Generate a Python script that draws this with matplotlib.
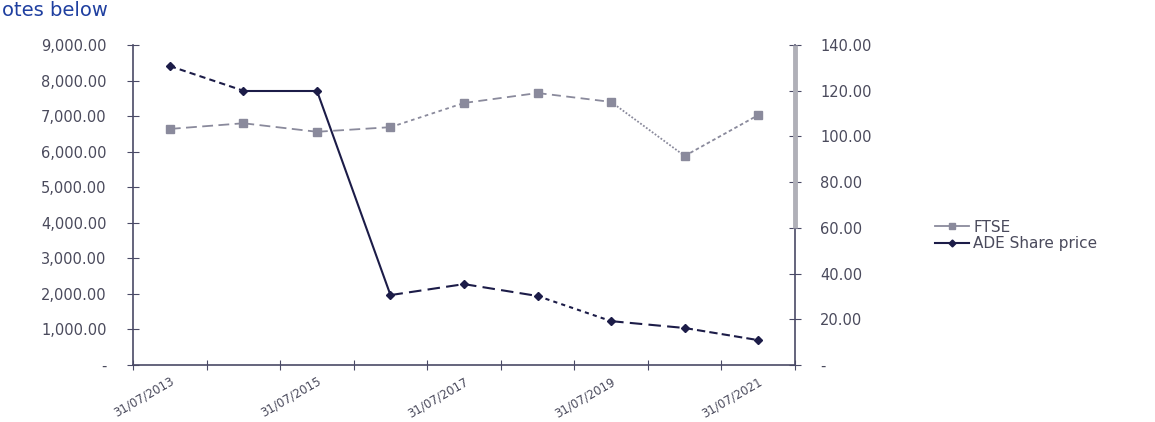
import numpy as np
import matplotlib.pyplot as plt

# data
dates = ['31/07/2013', '31/07/2014', '31/07/2015', '31/07/2016', '31/07/2017',
         '31/07/2018', '31/07/2019', '31/07/2020', '31/07/2021']
ftse = [6640, 6800, 6560, 6690, 7370, 7650, 7400, 5880, 7030]
ade = [130.8, 120.0, 120.0, 30.6, 35.4, 30.2, 19.2, 16.2, 10.9]

left_ticks = [0, 1000, 2000, 3000, 4000, 5000, 6000, 7000, 8000, 9000]
right_ticks = [0, 20, 40, 60, 80, 100, 120, 140]

# segment styles (the original lines are drawn with mixed dashes)
ftse_styles = [(0, (6, 3)), (0, (6, 3)), (0, (6, 3)), (0, (2, 2)),
               (0, (5, 3)), (0, (5, 3)), (0, (1, 1)), (0, (2, 1.5))]
ade_styles = [(0, (3, 2)), '-', '-', (0, (6, 3)),
              (0, (6, 3)), (0, (2, 2)), (0, (6, 3)), (0, (4, 2))]

c_ftse = '#8a8a9c'
c_ade = '#1c1c48'
c_txt = '#4a4a5c'
c_axis = '#4a4a66'

fig = plt.figure(figsize=(11.55, 4.22), dpi=100)
ax = fig.add_axes([0.1152, 0.135, 0.5731, 0.7583])
ax2 = ax.twinx()

x = np.arange(len(dates))

for i in range(len(x) - 1):
    ax.plot(x[i:i + 2], ftse[i:i + 2], color=c_ftse, lw=1.3, ls=ftse_styles[i])
    ax2.plot(x[i:i + 2], ade[i:i + 2], color=c_ade, lw=1.5, ls=ade_styles[i])
ax.plot(x, ftse, ls='none', marker='s', ms=6, color=c_ftse)
ax2.plot(x, ade, ls='none', marker='D', ms=4, color=c_ade)

# legend proxies
h1, = ax.plot([], [], color=c_ftse, lw=1.3, marker='s', ms=5, label='FTSE')
h2, = ax.plot([], [], color=c_ade, lw=1.5, marker='D', ms=3.5, label='ADE Share price')

ax.set_xlim(-0.5, len(dates) - 0.5)
ax.set_ylim(0, 9000)
ax2.set_ylim(0, 140)

ax.set_yticks(left_ticks)
ax.set_yticklabels(['-' if v == 0 else f'{v:,.2f}' for v in left_ticks])
ax2.set_yticks(right_ticks)
ax2.set_yticklabels(['-' if v == 0 else f'{v:.2f}' for v in right_ticks])

ax.set_xticks(np.arange(-0.5, len(dates), 1.0))
ax.set_xticklabels([])
ax.set_xticks(x[::2], minor=True)
ax.set_xticklabels(dates[::2], minor=True, rotation=30, ha='right', va='top',
                   rotation_mode='anchor')
ax.tick_params(axis='x', which='minor', length=0, pad=7, labelsize=8.5, labelcolor=c_txt)
ax.tick_params(axis='x', which='major', direction='inout', length=7, color=c_axis)
ax.tick_params(axis='y', direction='inout', length=8, color=c_axis, labelsize=10.5,
               labelcolor=c_txt, pad=15)
ax2.tick_params(axis='y', direction='inout', length=8, color=c_axis, labelsize=10.5,
                labelcolor=c_txt, pad=14)

for a in (ax, ax2):
    a.spines['top'].set_visible(False)
    for s in ('left', 'right', 'bottom'):
        a.spines[s].set_color(c_axis)
        a.spines[s].set_linewidth(1.2)
ax2.spines['left'].set_visible(False)
ax2.spines['bottom'].set_visible(False)
ax.spines['right'].set_visible(False)
# grey band over the upper part of the right axis
ax2.plot([1, 1], [60, 140], transform=ax2.get_yaxis_transform(), color='#b0b0b8',
         lw=3.5, zorder=3, clip_on=False, solid_capstyle='butt')

fig.legend(handles=[h1, h2], loc='center left', bbox_to_anchor=(0.803, 0.442),
           frameon=False, fontsize=11, labelcolor=c_txt, handlelength=2.2,
           handletextpad=0.3, labelspacing=0.1, borderpad=0)

fig.text(0.002, 0.997, 'otes below', color='#1f3fa0', fontsize=14, ha='left', va='top')

fig.savefig('out.png', dpi=100, facecolor='white')
